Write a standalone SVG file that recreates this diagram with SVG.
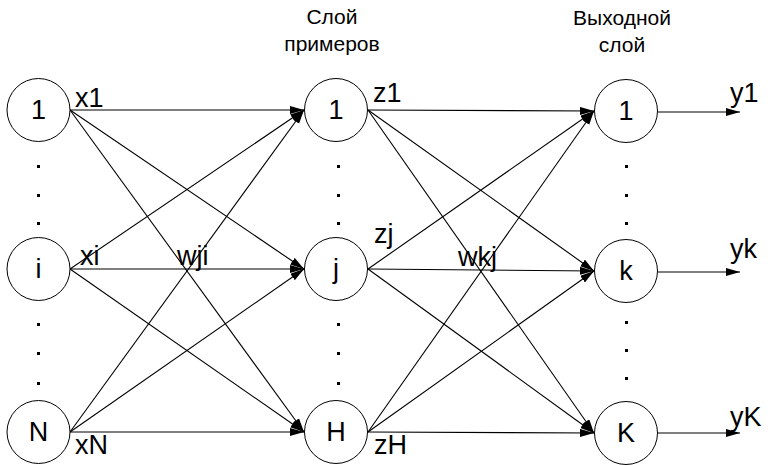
<svg xmlns="http://www.w3.org/2000/svg" width="775" height="465" viewBox="0 0 775 465">
<style>
.n{fill:#fff;stroke:#000;stroke-width:1}
.t{font-family:"Liberation Sans",Arial,sans-serif;font-size:27px;fill:#000}
.c{text-anchor:middle}
.h{font-family:"Liberation Sans",Arial,sans-serif;font-size:21px;fill:#000;text-anchor:middle}
.e{stroke:#000;stroke-width:1.1;fill:none;marker-end:url(#a)}
.d{fill:#000}
</style>
<defs>
<marker id="a" markerUnits="userSpaceOnUse" markerWidth="15" markerHeight="9" refX="14" refY="4" orient="auto">
<path d="M0,0 L14,4 L0,8 z" fill="#000"/>
</marker>
</defs>
<rect width="775" height="465" fill="#fff"/>
<g id="connectors">
<line class="e" x1="70" y1="110" x2="304" y2="110"/>
<line class="e" x1="70" y1="110" x2="304" y2="269"/>
<line class="e" x1="70" y1="110" x2="304" y2="432"/>
<line class="e" x1="70" y1="269" x2="304" y2="110"/>
<line class="e" x1="70" y1="269" x2="304" y2="269"/>
<line class="e" x1="70" y1="269" x2="304" y2="432"/>
<line class="e" x1="70" y1="432" x2="304" y2="110"/>
<line class="e" x1="70" y1="432" x2="304" y2="269"/>
<line class="e" x1="70" y1="432" x2="304" y2="432"/>
<line class="e" x1="368" y1="110" x2="594" y2="111"/>
<line class="e" x1="368" y1="110" x2="594" y2="271"/>
<line class="e" x1="368" y1="110" x2="594" y2="433"/>
<line class="e" x1="368" y1="269" x2="594" y2="111"/>
<line class="e" x1="368" y1="269" x2="594" y2="271"/>
<line class="e" x1="368" y1="269" x2="594" y2="433"/>
<line class="e" x1="368" y1="432" x2="594" y2="111"/>
<line class="e" x1="368" y1="432" x2="594" y2="271"/>
<line class="e" x1="368" y1="432" x2="594" y2="433"/>
<line class="e" x1="658" y1="112" x2="740" y2="112"/>
<line class="e" x1="658" y1="272" x2="740" y2="272"/>
<line class="e" x1="658" y1="433" x2="740" y2="433"/>
</g>
<g id="labels">
<text class="t" x="75" y="107">x1</text>
<text class="t" x="80" y="265">xi</text>
<text class="t" x="75" y="454">xN</text>
<text class="t" x="177" y="265">wji</text>
<text class="t" x="373" y="102">z1</text>
<text class="t" x="374" y="243">zj</text>
<text class="t" x="458" y="266">wkj</text>
<text class="t" x="374" y="454">zH</text>
<text class="t" x="730" y="102">y1</text>
<text class="t" x="730" y="258">yk</text>
<text class="t" x="730" y="426">yK</text>
<text class="h" x="332" y="24">Слой</text>
<text class="h" x="332" y="51">примеров</text>
<text class="h" x="622" y="25">Выходной</text>
<text class="h" x="622" y="52">слой</text>
</g>
<g id="dots">
<rect class="d" x="37" y="165" width="3" height="3"/>
<rect class="d" x="37" y="194" width="3" height="3"/>
<rect class="d" x="37" y="222" width="3" height="3"/>
<rect class="d" x="37" y="323" width="3" height="3"/>
<rect class="d" x="37" y="352" width="3" height="3"/>
<rect class="d" x="37" y="382" width="3" height="3"/>
<rect class="d" x="337" y="165" width="3" height="3"/>
<rect class="d" x="337" y="194" width="3" height="3"/>
<rect class="d" x="337" y="222" width="3" height="3"/>
<rect class="d" x="337" y="323" width="3" height="3"/>
<rect class="d" x="337" y="352" width="3" height="3"/>
<rect class="d" x="337" y="382" width="3" height="3"/>
<rect class="d" x="625" y="165" width="3" height="3"/>
<rect class="d" x="625" y="194" width="3" height="3"/>
<rect class="d" x="625" y="222" width="3" height="3"/>
<rect class="d" x="625" y="321" width="3" height="3"/>
<rect class="d" x="625" y="349" width="3" height="3"/>
<rect class="d" x="625" y="377" width="3" height="3"/>
</g>
<g id="in1"><circle class="n" cx="38.5" cy="110" r="31.5"/><text class="t c" x="38.5" y="119">1</text></g>
<g id="ini"><circle class="n" cx="38.5" cy="269" r="31.5"/><text class="t c" x="38.5" y="278">i</text></g>
<g id="inN"><circle class="n" cx="38.5" cy="432" r="31.5"/><text class="t c" x="38.5" y="441">N</text></g>
<g id="mid1"><circle class="n" cx="336" cy="110" r="31.5"/><text class="t c" x="336" y="119">1</text></g>
<g id="midj"><circle class="n" cx="336" cy="269" r="31.5"/><text class="t c" x="336" y="278">j</text></g>
<g id="midH"><circle class="n" cx="336" cy="432" r="31.5"/><text class="t c" x="336" y="441">H</text></g>
<g id="out1"><circle class="n" cx="626" cy="111" r="31.5"/><text class="t c" x="626" y="120">1</text></g>
<g id="outk"><circle class="n" cx="626" cy="271" r="31.5"/><text class="t c" x="626" y="280">k</text></g>
<g id="outK"><circle class="n" cx="626" cy="433" r="31.5"/><text class="t c" x="626" y="442">K</text></g>
</svg>
